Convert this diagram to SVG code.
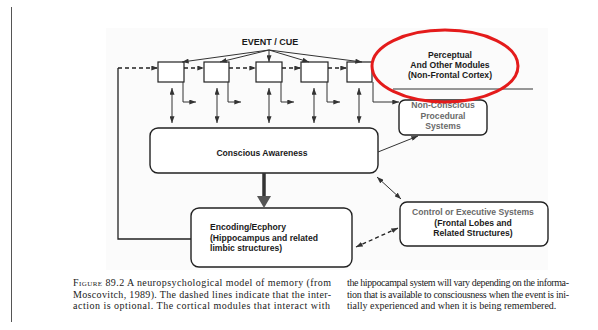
<svg xmlns="http://www.w3.org/2000/svg" width="598" height="330" viewBox="0 0 598 330">
<style>
.box{fill:#ffffff;stroke:#222;stroke-width:1.2}
.rbox{fill:#ffffff;stroke:#222;stroke-width:1.4}
.ln{fill:none;stroke:#333;stroke-width:1}
.dash{fill:none;stroke:#222;stroke-width:1.3;stroke-dasharray:4 3}
.lbl{font-family:"Liberation Sans",Arial,sans-serif;font-size:8.6px;font-weight:bold;fill:#1a1a1a;text-anchor:middle}
.gry{fill:#6a6a6a}
.cap{font-family:"Liberation Serif","Times New Roman",serif;font-size:10px;fill:#222}
</style>
<defs>
<marker id="ah" viewBox="0 0 8 6" refX="8" refY="3" markerWidth="7" markerHeight="5" markerUnits="userSpaceOnUse" orient="auto-start-reverse">
<path d="M0,0 L8,3 L0,6 z" fill="#333"/>
</marker>
</defs>
<rect x="0" y="0" width="598" height="330" fill="#ffffff"/>
<rect x="106" y="28" width="442" height="242" fill="#fbfbfb"/>
<line x1="11.5" y1="7" x2="11.5" y2="322" stroke="#555" stroke-width="1"/>

<g id="event-cue"><text class="lbl" x="270" y="45" style="font-size:9px">EVENT / CUE</text></g>

<g id="module1"><rect class="box" x="158" y="62" width="26" height="20"/></g>
<g id="module2"><rect class="box" x="204" y="62" width="25" height="20"/></g>
<g id="module3"><rect class="box" x="256" y="62" width="26" height="20"/></g>
<g id="module4"><rect class="box" x="301" y="62" width="27" height="20"/></g>
<g id="module5"><rect class="box" x="347" y="62" width="25" height="20"/></g>

<g id="perceptual">
<text class="lbl" x="450" y="58">Perceptual</text>
<text class="lbl" x="450" y="68">And Other Modules</text>
<text class="lbl" x="450" y="78">(Non-Frontal Cortex)</text>
<line x1="393" y1="89" x2="533" y2="89" stroke="#333" stroke-width="1"/>
</g>

<g id="non-conscious">
<rect class="rbox" x="399" y="100" width="88" height="35" rx="6"/>
<text class="lbl gry" x="443" y="108">Non-Conscious</text>
<text class="lbl gry" x="443" y="118.5">Procedural</text>
<text class="lbl gry" x="443" y="129">Systems</text>
</g>

<g id="conscious">
<rect class="rbox" x="150" y="128" width="228" height="45" rx="8"/>
<text class="lbl" x="262" y="156">Conscious Awareness</text>
</g>

<g id="encoding">
<rect class="rbox" x="191" y="208" width="161" height="59" rx="8"/>
<text class="lbl" x="210" y="230" style="text-anchor:start">Encoding/Ecphory</text>
<text class="lbl" x="210" y="240.5" style="text-anchor:start">(Hippocampus and related</text>
<text class="lbl" x="210" y="251" style="text-anchor:start">limbic structures)</text>
</g>

<g id="control">
<rect class="rbox" x="400" y="202" width="148" height="44" rx="7"/>
<text class="lbl gry" x="473" y="215">Control or Executive Systems</text>
<text class="lbl" x="473" y="225.5">(Frontal Lobes and</text>
<text class="lbl" x="473" y="236">Related Structures)</text>
</g>

<g id="connectors">
<line class="ln" x1="269" y1="50" x2="182" y2="62" marker-end="url(#ah)"/>
<line class="ln" x1="269" y1="50" x2="220" y2="62" marker-end="url(#ah)"/>
<line class="ln" x1="269" y1="50" x2="269" y2="62" marker-end="url(#ah)"/>
<line class="ln" x1="269" y1="50" x2="309" y2="62" marker-end="url(#ah)"/>
<line class="ln" x1="269" y1="50" x2="362" y2="62" marker-end="url(#ah)"/>
<line class="dash" x1="118" y1="68" x2="158" y2="68" marker-end="url(#ah)"/>
<line class="dash" x1="184" y1="68" x2="204" y2="68" marker-end="url(#ah)"/>
<line class="dash" x1="229" y1="68" x2="256" y2="68" marker-end="url(#ah)"/>
<line class="dash" x1="282" y1="68" x2="301" y2="68" marker-end="url(#ah)"/>
<line class="dash" x1="328" y1="68" x2="347" y2="68" marker-end="url(#ah)"/>
<polyline fill="none" stroke="#222" stroke-width="1.3" points="118,68 118,239 191,239"/>
<line class="ln" x1="172" y1="88" x2="172" y2="123" marker-start="url(#ah)" marker-end="url(#ah)"/>
<line class="ln" x1="217" y1="88" x2="217" y2="123" marker-start="url(#ah)" marker-end="url(#ah)"/>
<line class="ln" x1="269" y1="88" x2="269" y2="123" marker-start="url(#ah)" marker-end="url(#ah)"/>
<line class="ln" x1="314" y1="88" x2="314" y2="123" marker-start="url(#ah)" marker-end="url(#ah)"/>
<line class="ln" x1="359" y1="88" x2="359" y2="123" marker-start="url(#ah)" marker-end="url(#ah)"/>
<polyline class="ln" points="183,82 183,102 196,102" marker-end="url(#ah)"/>
<polyline class="ln" points="228,82 228,102 241,102" marker-end="url(#ah)"/>
<polyline class="ln" points="281,82 281,102 294,102" marker-end="url(#ah)"/>
<polyline class="ln" points="327,82 327,102 340,102" marker-end="url(#ah)"/>
<polyline class="ln" points="373,82 373,102 399,102" marker-end="url(#ah)"/>
<line class="ln" x1="378" y1="152" x2="418" y2="136" marker-end="url(#ah)"/>
<line class="ln" x1="377" y1="177" x2="401" y2="199" stroke-width="1.4" marker-start="url(#ah)" marker-end="url(#ah)"/>
<line class="dash" x1="356" y1="247" x2="398" y2="228" marker-start="url(#ah)" marker-end="url(#ah)"/>
<line x1="264" y1="173" x2="264" y2="197" stroke="#333" stroke-width="3.5"/>
<polygon points="257,196 271,196 264,208" fill="#555"/>
</g>

<ellipse cx="445" cy="66" rx="73" ry="36" fill="none" stroke="#e41b1b" stroke-width="3"/>

<g id="caption">
<text class="cap" x="73" y="286" textLength="258" lengthAdjust="spacing"><tspan font-variant="small-caps">Figure</tspan> 89.2  A neuropsychological model of memory (from</text>
<text class="cap" x="73" y="297.5" textLength="258" lengthAdjust="spacing">Moscovitch, 1989). The dashed lines indicate that the inter-</text>
<text class="cap" x="73" y="309" textLength="257" lengthAdjust="spacing">action is optional. The cortical modules that interact with</text>
<text class="cap" x="347" y="286" textLength="222" lengthAdjust="spacing">the hippocampal system will vary depending on the informa-</text>
<text class="cap" x="347" y="297.5" textLength="222" lengthAdjust="spacing">tion that is available to consciousness when the event is ini-</text>
<text class="cap" x="347" y="309">tially experienced and when it is being remembered.</text>
</g>
</svg>
